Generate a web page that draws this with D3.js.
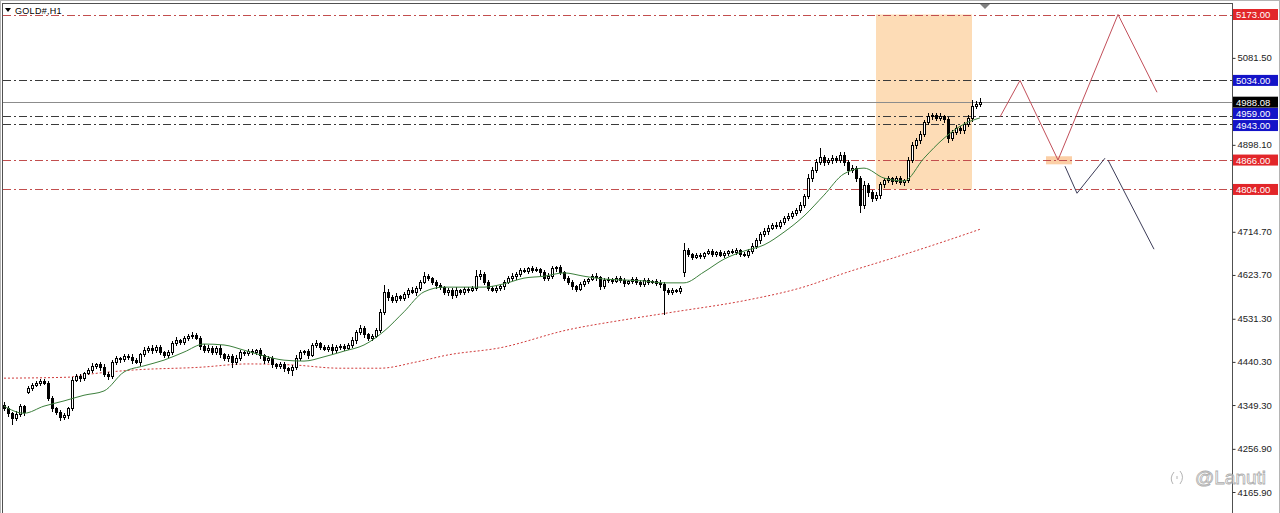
<!DOCTYPE html>
<html><head><meta charset="utf-8">
<script src="https://cdn.jsdelivr.net/npm/d3@7"></script>
<style>
html,body{margin:0;padding:0;background:#fff;}
svg{display:block;}
text{font-family:"Liberation Sans",Arial,sans-serif;}
</style></head><body>
<svg id="chart" width="1280" height="513"></svg>
<script>
// ---------------- data ----------------
const symbolTitle = "GOLD#,H1";
const closes = [
4343,4332,4322,4330,4347,4335,4385,4392,4396,4400,
4396,4364,4343,4335,4324,4328,4343,4402,4410,4406,
4417,4423,4432,4436,4430,4415,4410,4440,4448,4446,
4453,4451,4444,4440,4457,4465,4470,4465,4472,4461,
4455,4461,4480,4486,4482,4491,4495,4497,4491,4474,
4465,4470,4461,4470,4457,4448,4453,4440,4448,4461,
4459,4463,4461,4465,4455,4444,4448,4436,4432,4436,
4427,4423,4430,4448,4461,4463,4455,4476,4480,4472,
4468,4472,4465,4472,4474,4470,4476,4486,4503,4512,
4499,4491,4495,4508,4546,4588,4577,4571,4579,4575,
4583,4592,4588,4596,4609,4621,4617,4609,4602,4598,
4588,4592,4581,4592,4588,4594,4592,4596,4621,4626,
4609,4596,4592,4596,4600,4609,4617,4621,4626,4634,
4632,4638,4634,4636,4630,4617,4621,4638,4640,4630,
4617,4609,4600,4594,4605,4611,4615,4621,4619,4600,
4613,4615,4611,4617,4613,4607,4611,4615,4609,4605,
4613,4609,4611,4607,4605,4592,4588,4592,4590,4596,
4676,4668,4662,4666,4664,4670,4674,4668,4672,4666,
4670,4674,4672,4676,4668,4666,4674,4685,4697,4710,
4716,4723,4729,4727,4735,4744,4748,4754,4761,4771,
4790,4828,4845,4862,4872,4862,4866,4870,4866,4877,
4862,4845,4849,4828,4771,4813,4799,4786,4792,4815,
4824,4828,4822,4828,4820,4824,4866,4898,4908,4921,
4946,4959,4961,4955,4959,4953,4913,4925,4934,4929,
4942,4955,4980,4984,4988];
const wickUp = [
5,4,3,6,4,3,4,3,5,4, 4,3,5,3,4,5,3,6,4,5, 3,4,5,3,4,6,3,4,5,3, 4,3,5,4,3,6,4,5,3,4,
3,5,4,6,3,4,5,6,4,3, 4,5,3,4,5,3,4,3,6,4, 3,4,5,3,4,3,5,4,3,4, 5,3,4,6,4,3,5,4,6,3,
4,3,5,4,3,4,5,6,4,7, 4,3,5,4,6,14,5,4,6,3, 5,4,6,4,5,9,4,3,5,4, 3,5,4,6,3,4,5,4,13,8,
4,3,5,4,3,5,4,6,3,5, 4,3,5,4,3,4,6,5,3,4, 3,4,5,3,4,5,3,4,6,3, 4,5,3,4,5,4,3,5,4,3,
5,4,3,4,5,3,4,5,3,4, 15,4,3,5,4,3,5,4,3,4, 5,3,4,5,3,4,5,6,5,4, 6,5,4,6,5,4,6,5,4,6,
5,8,7,6,19,5,4,6,5,6, 5,4,6,5,4,8,5,4,6,5, 4,5,3,4,5,3,6,7,5,6, 5,6,4,5,6,3,4,5,6,4,
5,6,13,6,9];
const wickDown = [
5,6,13,5,4,6,3,4,3,4, 3,5,6,5,6,4,5,4,3,5, 4,3,5,4,6,4,5,3,4,5, 3,4,5,3,6,4,3,5,4,3,
5,4,3,5,4,3,4,5,3,6, 4,3,5,4,6,4,5,10,4,3, 4,5,3,4,6,5,4,6,5,4, 5,6,10,4,3,5,6,3,4,5,
3,4,6,3,4,5,3,4,5,3, 6,5,4,3,5,4,6,5,4,5, 4,5,3,6,4,3,5,4,6,5, 4,6,5,3,4,5,4,3,4,5,
5,4,3,5,4,6,3,4,5,4, 3,5,4,3,6,5,4,3,5,4, 4,5,6,4,3,5,4,3,5,6, 3,4,5,3,4,6,3,4,5,4,
4,5,3,4,6,51,4,5,3,4, 9,5,4,3,5,4,3,5,4,3, 4,5,3,4,5,3,4,3,4,5, 4,5,3,4,5,3,4,5,3,4,
5,4,6,5,4,6,5,7,4,5, 6,8,5,7,15,6,8,7,5,6, 5,4,6,5,4,6,5,4,6,5, 4,5,6,4,5,6,9,5,4,6,
5,4,6,5,4];
const gapOpens = {0: 4350, 6: 4377, 170: 4630};

const maFastIdx = [0,5,10,15,20,25,30,35,40,45,50,55,60,65,70,75,80,85,90,95,100,105,110,115,120,
  125,130,135,140,145,150,155,160,165,170,175,180,185,190,195,200,205,210,215,220,225,230,235,240,244];
const maFast = [4347,4332,4347,4358,4370,4379,4419,4432,4444,4461,4478,4476,4465,4453,4444,4442,4451,4463,4476,4505,4546,4588,4598,4598,4598,
  4605,4617,4621,4628,4621,4615,4613,4611,4607,4607,4630,4657,4674,4687,4714,4748,4792,4837,4849,4828,4822,4870,4912,4942,4955];
const maSlowIdx = [0,16,20,32,49,61,72,84,94,103,111,124,141,155,167,186,199,211,224,236,244];
const maSlow = [4406,4408,4413,4423,4429,4436,4434,4427,4427,4440,4455,4470,4508,4529,4545,4571,4596,4630,4664,4697,4720];

const tickValues = [5081.5, 4898.1, 4714.7, 4623.7, 4531.3, 4440.3, 4349.3, 4256.9, 4165.9];
const redLevels = [5173, 4866, 4804];
const blueLevels = [5034, 4959, 4943];
const lastPrice = 4988.08;
const zoneBar = [218, 242];
const zonePrice = [5173, 4804];
const markBar = [260.5, 267];
const markPrice = [4874, 4857];
const projA = [[249,4957],[254,5034],[263.5,4866],[278.5,5173],[288.25,5009]];
const projB1 = [[265.25,4853],[268.25,4796],[275.25,4870]];
const projB2 = [[276,4866],[287.5,4678]];
const shiftBar = 245.25;
const watermark = "@Lanuti";

// ---------------- drawing ----------------
const svg = d3.select("#chart");
const W = 1280, H = 513, axisX = 1232.5;
const x = d3.scaleLinear().domain([0, 244]).range([4, 980]);
const y = d3.scaleLinear().domain([4165.9, 5173]).range([492, 14.5]);

// frame
svg.append("rect").attr("x",0.5).attr("y",0.5).attr("width",W-1).attr("height",H).attr("fill","#fff").attr("stroke","#b4b4b4");

// zone rectangles
svg.append("rect")
  .attr("x", x(zoneBar[0])).attr("width", x(zoneBar[1]) - x(zoneBar[0]))
  .attr("y", y(zonePrice[0])).attr("height", y(zonePrice[1]) - y(zonePrice[0]))
  .attr("fill", "#fddcb6");
svg.append("rect")
  .attr("x", x(markBar[0])).attr("width", x(markBar[1]) - x(markBar[0]))
  .attr("y", y(markPrice[0])).attr("height", y(markPrice[1]) - y(markPrice[0]))
  .attr("fill", "#fbcfa6");

// horizontal level lines
const hl = svg.append("g").attr("shape-rendering","crispEdges");
redLevels.forEach(p => hl.append("line").attr("x1",3).attr("x2",axisX).attr("y1",Math.round(y(p))+0.5).attr("y2",Math.round(y(p))+0.5)
  .attr("stroke","#c24e4e").attr("stroke-dasharray","8,3,2,3"));
blueLevels.forEach(p => hl.append("line").attr("x1",3).attr("x2",axisX).attr("y1",Math.round(y(p))+0.5).attr("y2",Math.round(y(p))+0.5)
  .attr("stroke","#3a3a3a").attr("stroke-dasharray","8,3,2,3"));
hl.append("line").attr("x1",3).attr("x2",axisX).attr("y1",Math.round(y(lastPrice))+0.5).attr("y2",Math.round(y(lastPrice))+0.5)
  .attr("stroke","#8c8c8c");

// slow MA (red dotted)
const lineGen = d3.line().x(d => x(d[0])).y(d => y(d[1])).curve(d3.curveMonotoneX);
svg.append("path").attr("d", lineGen(maSlowIdx.map((d,i)=>[d, maSlow[i]])))
  .attr("fill","none").attr("stroke","#d03a3a").attr("stroke-width",1).attr("stroke-dasharray","2,2");

// candles
const cg = svg.append("g").attr("shape-rendering","crispEdges");
closes.forEach((c, i) => {
  const o = gapOpens[i] !== undefined ? gapOpens[i] : closes[i-1];
  const hi = Math.max(o, c) + wickUp[i];
  const lo = Math.min(o, c) - wickDown[i];
  const cx = Math.round(x(i));
  cg.append("line").attr("x1",cx+0.5).attr("x2",cx+0.5)
    .attr("y1",Math.round(y(hi))).attr("y2",Math.round(y(lo))+1).attr("stroke","#000");
  const top = Math.round(y(Math.max(o,c))), bot = Math.round(y(Math.min(o,c)));
  const bull = c >= o;
  cg.append("rect").attr("x",cx-0.5).attr("width",2)
    .attr("y",top+0.5).attr("height",Math.max(0, bot-top))
    .attr("fill", bull ? "#fff" : "#000").attr("stroke","#000");
});

// fast MA (green)
svg.append("path").attr("d", lineGen(maFastIdx.map((d,i)=>[d, maFast[i]])))
  .attr("fill","none").attr("stroke","#3c7f3c").attr("stroke-width",1);

// projection zigzags
const plain = d3.line().x(d => x(d[0])).y(d => y(d[1]));
svg.append("path").attr("d", plain(projA)).attr("fill","none").attr("stroke","#c24f5a").attr("stroke-width",1);
svg.append("path").attr("d", plain(projB1)).attr("fill","none").attr("stroke","#3c3c58").attr("stroke-width",1);
svg.append("path").attr("d", plain(projB2)).attr("fill","none").attr("stroke","#3c3c58").attr("stroke-width",1);

// plot borders
const bg = svg.append("g").attr("shape-rendering","crispEdges");
bg.append("line").attr("x1",2.5).attr("x2",2.5).attr("y1",3).attr("y2",H).attr("stroke","#505050");
bg.append("line").attr("x1",2).attr("x2",axisX).attr("y1",3.5).attr("y2",3.5).attr("stroke","#505050");
bg.append("line").attr("x1",axisX).attr("x2",axisX).attr("y1",3).attr("y2",H).attr("stroke","#505050");
bg.append("line").attr("x1",0).attr("x2",W).attr("y1",0.5).attr("y2",0.5).attr("stroke","#b4b4b4");

// shift marker
const sx = x(shiftBar);
svg.append("path").attr("d", `M${sx-5},4 L${sx+5},4 L${sx},9 Z`).attr("fill","#808080");

// title
svg.append("path").attr("d","M5,8 L11,8 L8,12 Z").attr("fill","#000");
svg.append("text").attr("x",15).attr("y",14).attr("font-size",9).attr("letter-spacing",0.3).attr("fill","#000").text(symbolTitle);

// right axis
const ax = svg.append("g").attr("transform",`translate(${axisX},0)`)
  .call(d3.axisRight(y).tickValues(tickValues).tickFormat(d3.format(".2f")).tickSize(3).tickPadding(2));
ax.select(".domain").remove();
ax.selectAll(".tick line").attr("stroke","#333");
ax.selectAll(".tick text").attr("font-size",9.5).attr("fill","#222").attr("font-family","Liberation Sans, Arial, sans-serif");

// level labels (shift nudges the two crowded labels apart)
function levelLabel(p, fill, shift) {
  const cy = y(p) + (shift || 0);
  svg.append("rect").attr("x",1233).attr("y",cy-5.5).attr("width",45).attr("height",11).attr("fill",fill);
  svg.append("text").attr("x",1236).attr("y",cy+3.5).attr("font-size",9.5).attr("fill","#fff").text(p.toFixed(2));
}
levelLabel(redLevels[0], "#e2262a");
levelLabel(blueLevels[0], "#1414c8");
levelLabel(lastPrice, "#000");
levelLabel(blueLevels[1], "#1414c8", -2.5);
levelLabel(blueLevels[2], "#1414c8", 2);
levelLabel(redLevels[1], "#e2262a");
levelLabel(redLevels[2], "#e2262a");

// watermark
const wm = svg.append("g").attr("opacity",0.85);
wm.append("path").attr("d","M1174,472 q-5,6 -1,12 M1180,471 q5,6 0,13 M1177,476 l0,3")
  .attr("fill","none").attr("stroke","#a8a8a8").attr("stroke-width",1);
wm.append("text").attr("x",1195).attr("y",484).attr("font-size",19)
  .attr("fill","#fff").attr("fill-opacity",0.7).attr("stroke","#a0a0a0").attr("stroke-width",0.8).text(watermark);
</script>
</body></html>
